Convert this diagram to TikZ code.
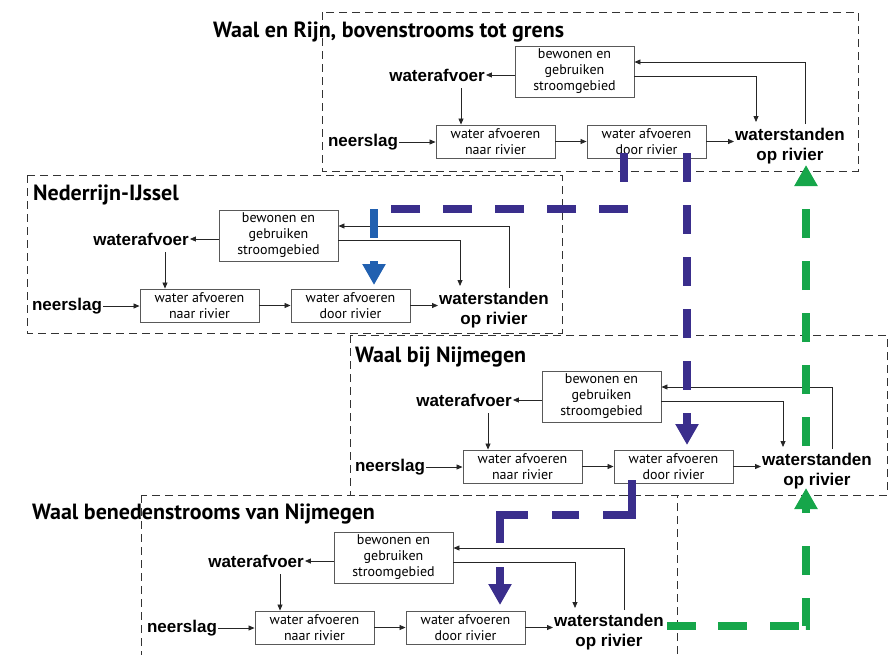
\documentclass[tikz,border=0pt]{standalone}
\usepackage{fontspec}
\setmainfont{PT Sans}
\newfontfamily\labelfont{Liberation Sans}
\usetikzlibrary{arrows.meta}

\definecolor{flowpurple}{RGB}{58,46,140}
\definecolor{flowblue}{RGB}{33,96,176}
\definecolor{flowgreen}{RGB}{22,166,74}

\tikzset{
  panelframe/.style={draw=black!80, line width=0.9pt, dash pattern=on 8pt off 5pt},
  procbox/.style={draw=black!65, line width=0.9pt, fill=white, inner sep=0pt,
    minimum width=119pt, align=center, font=\fontsize{14}{16}\selectfont},
  keylabel/.style={font=\labelfont\bfseries\fontsize{17}{20}\selectfont,
    align=center, inner sep=1pt},
  paneltitle/.style={font=\bfseries\fontsize{22}{26}\selectfont, anchor=base west, inner sep=0pt},
  link/.style={draw=black!85, line width=0.8pt, -{Triangle[length=6pt,width=5pt]}},
  flowline/.style={line width=7.5pt, dash pattern=on 29pt off 23pt},
  flowtip/.style={flowline, -{Triangle[length=21pt,width=22pt]}},
}

% one river section: #1 name suffix, (#2,#3) top-left corner of its layout
\newcommand{\riverpanel}[3]{%
  \begin{scope}[shift={(#2,#3)}]
    \node[procbox, minimum height=51pt] (bew#1) at (252.5,59.5) {bewonen en\\gebruiken\\stroomgebied};
    \node[procbox, minimum height=33pt] (naar#1) at (173.5,129.5) {water afvoeren\\naar rivier};
    \node[procbox, minimum height=33pt] (door#1) at (324.5,129.5) {water afvoeren\\door rivier};
    \node[keylabel] (afv#1) at (115,63) {waterafvoer};
    \node[keylabel] (neer#1) at (41,130) {neerslag};
    \node[keylabel] (stand#1) at (468,134) {waterstanden\\op rivier};
    \coordinate (drop#1) at (139,76);
    \coordinate (out#1) at (434,64);
    \coordinate (outend#1) at (434,110);
    \coordinate (back#1) at (483,112);
    \coordinate (in#1) at (483,50);
    \draw[link] (bew#1.west |- afv#1) -- (afv#1.east);
    \draw[link] (drop#1) -- (drop#1 |- naar#1.north);
    \draw[link] (neer#1.east) -- (neer#1.east -| naar#1.west);
    \draw[link] (naar#1.east) -- (door#1.west);
    \draw[link] (door#1.east) -- (door#1.east -| stand#1.west);
    \draw[link] (bew#1.east |- out#1) -| (outend#1);
    \draw[link] (back#1) |- (bew#1.east |- in#1);
  \end{scope}}

\begin{document}
\begin{tikzpicture}[x=1pt,y=-1pt]
  \useasboundingbox (0,0) rectangle (891,654);

  % dashed section frames
  \draw[panelframe] (322,12) rectangle (858,171);
  \draw[panelframe] (27,175) rectangle (562,333);
  \draw[panelframe] (350,335) rectangle (887,495);
  \draw[panelframe] (141,495) rectangle (677,664);

  % section titles
  \node[paneltitle] (t1) at (213,37) {Waal en Rijn, bovenstrooms tot grens};
  \node[paneltitle] (t2) at (33,200) {Nederrijn-IJssel};
  \node[paneltitle] (t3) at (355,362) {Waal bij Nijmegen};
  \node[paneltitle] (t4) at (32,519) {Waal benedenstrooms van Nijmegen};

  % section contents
  \riverpanel{A}{322}{12}
  \riverpanel{B}{26}{176}
  \riverpanel{C}{349}{337}
  \riverpanel{D}{141}{498}

  % coupling between the sections
  \coordinate (pAs) at (624,153);
  \coordinate (pAe) at (383,209);
  \coordinate (bBs) at (374,209);
  \coordinate (bBe) at (374,285);
  \coordinate (pCs) at (687,153);
  \coordinate (pCe) at (687,445);
  \coordinate (pDs) at (632,480);
  \coordinate (pDm) at (500,515);
  \coordinate (pDe) at (500,605);
  \coordinate (gDs) at (667,626);
  \coordinate (gDe) at (806,488);
  \coordinate (gCs) at (806,446);
  \coordinate (gCe) at (806,165);

  \draw[flowline, flowpurple] (pAs) |- (pAe);
  \draw[flowtip, flowblue] (bBs) -- (bBe);
  \draw[flowtip, flowpurple] (pCs) -- (pCe);
  \draw[flowtip, flowpurple, dash pattern=on 64pt off 24pt on 27pt off 24pt on 56pt off 24pt on 60pt]
    (pDs) |- (pDm) -- (pDe);
  \draw[flowtip, flowgreen, dash pattern=on 29pt off 22pt on 29pt off 23pt on 29pt off 7pt on 28pt off 23pt on 29pt off 33pt on 60pt]
    (gDs) -| (gDe);
  \draw[flowtip, flowgreen] (gCs) -- (gCe);
\end{tikzpicture}
\end{document}
